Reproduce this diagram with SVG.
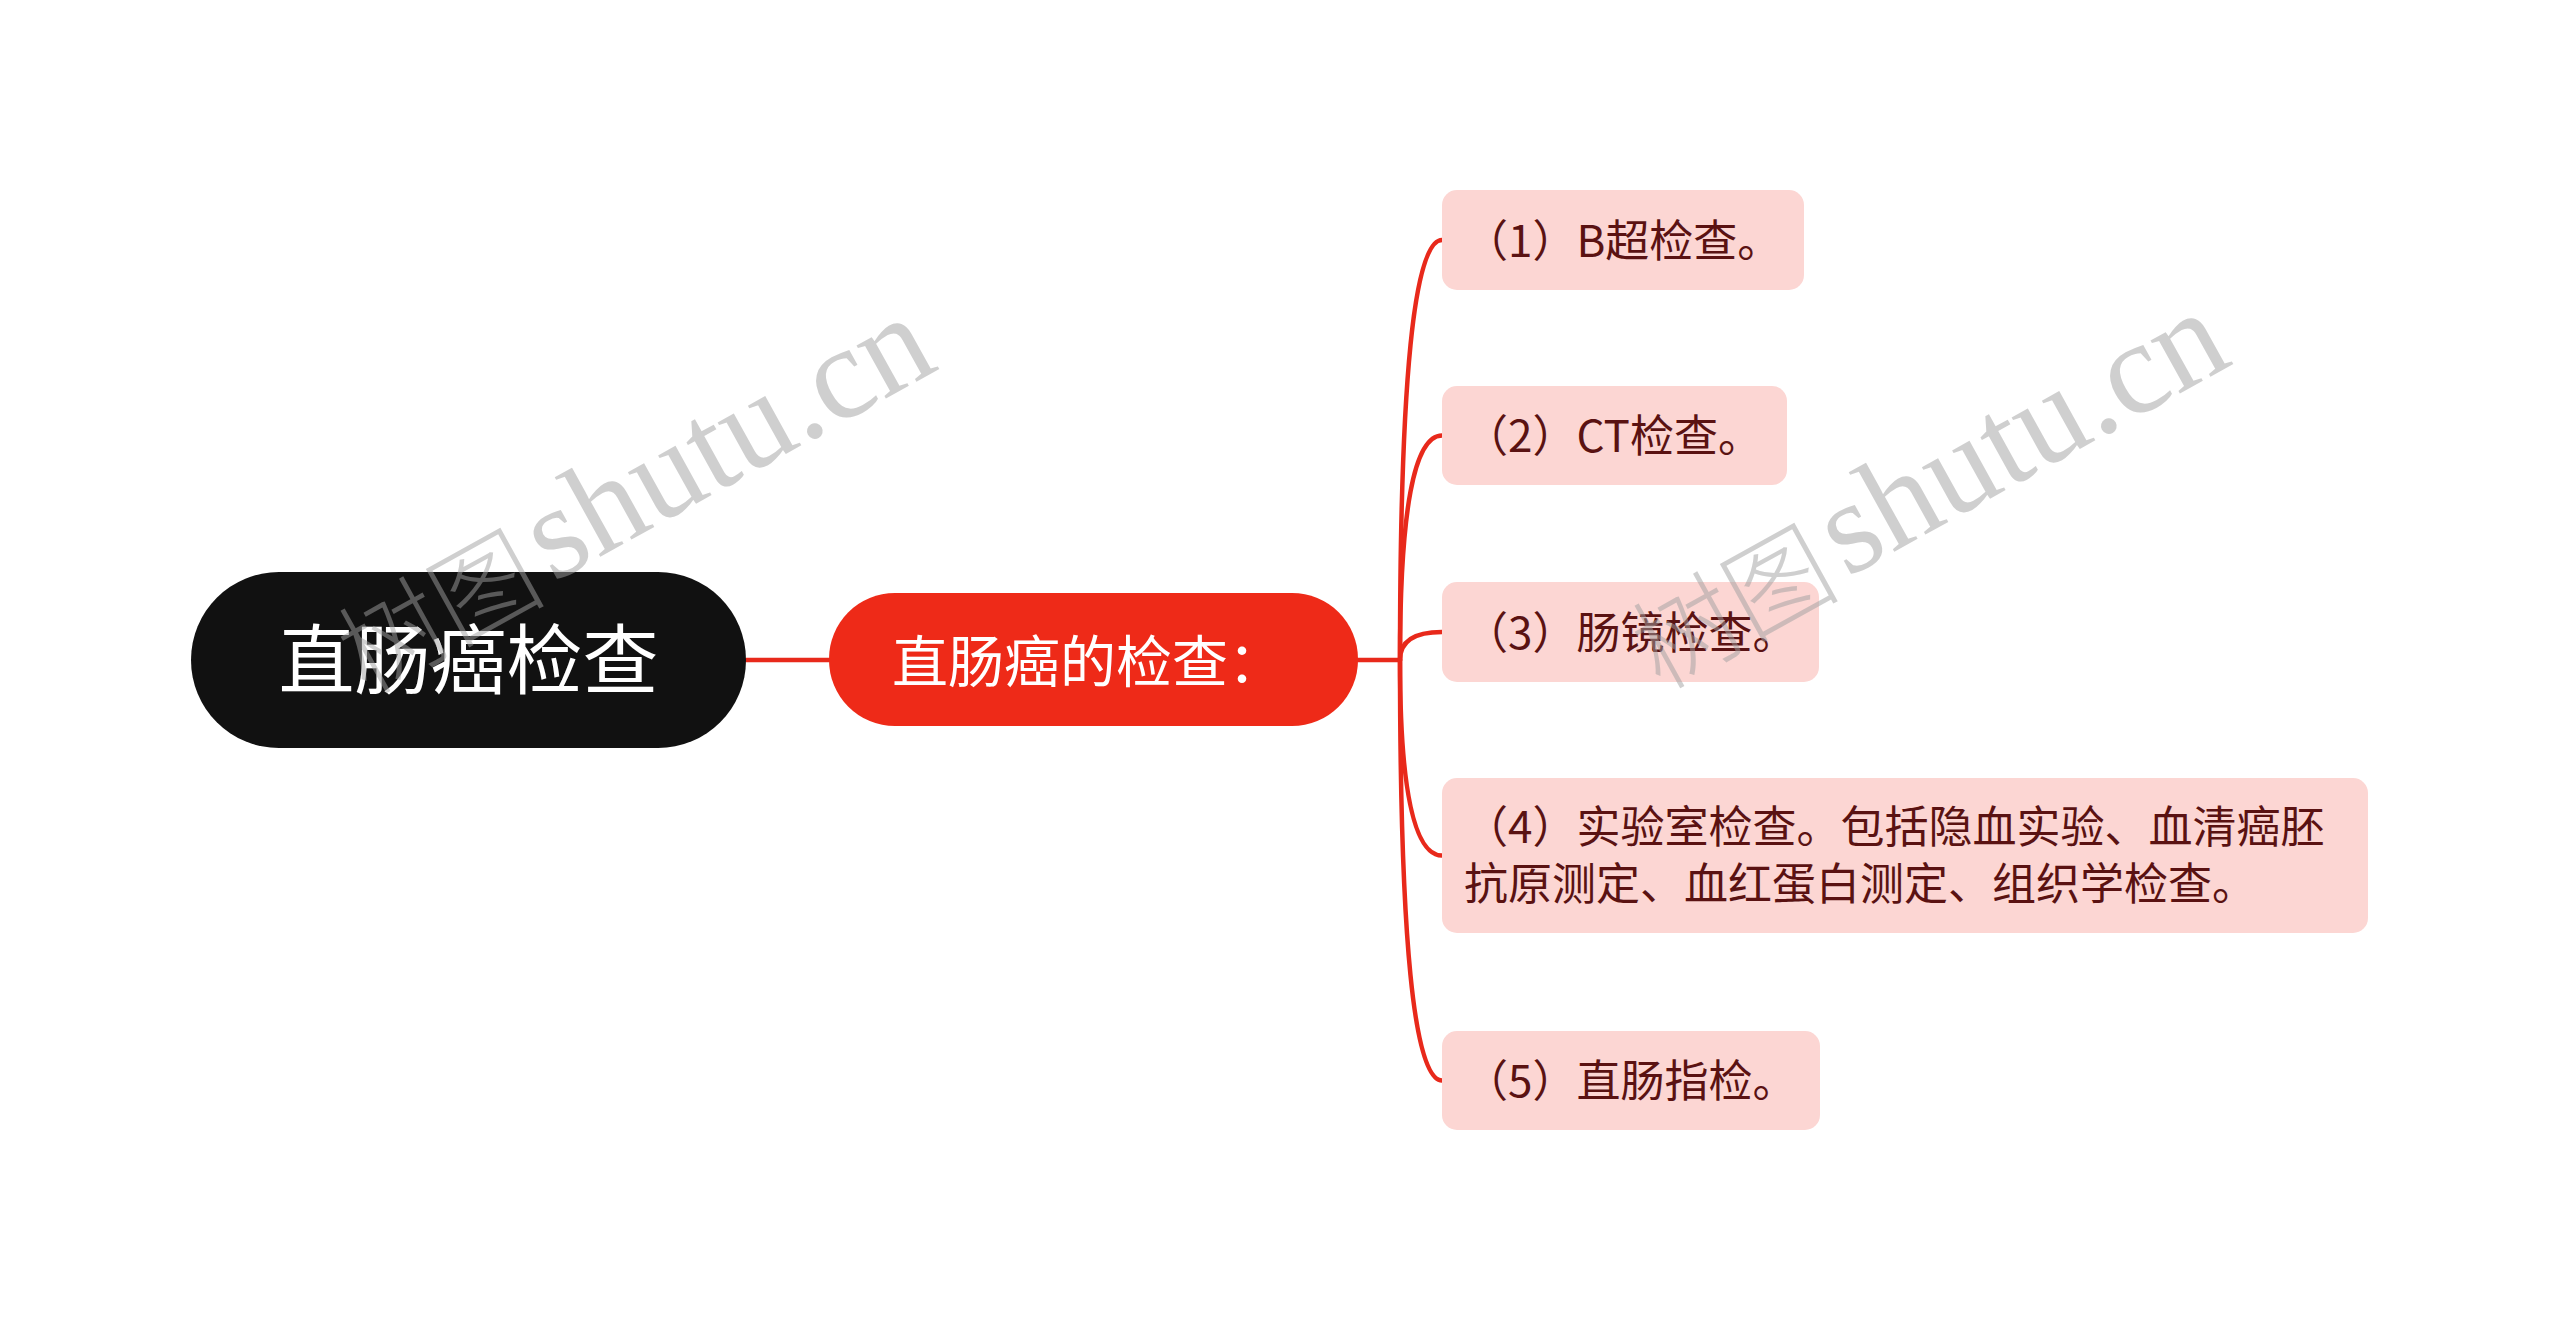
<svg xmlns="http://www.w3.org/2000/svg" width="2560" height="1321" viewBox="0 0 2560 1321">
<style>
.leaf rect{fill:#fcd6d3;}
.leaf text{fill:#5a1212;font-family:"Noto Sans CJK SC","Noto Sans",sans-serif;font-size:44px;}
.conn{fill:none;stroke:#e8291b;stroke-width:4.5;stroke-linecap:round;}
.wm{fill:#a0a0a0;opacity:0.5;}
</style>
<rect width="2560" height="1321" fill="#ffffff"/>
<g id="connectors">
<path class="conn" d="M746 660 L829 660"/>
<path class="conn" d="M1357 660 L1400 660"/>
<path class="conn" d="M1400 660 Q1400 240 1442 240"/>
<path class="conn" d="M1400 660 Q1400 435.5 1442 435.5"/>
<path class="conn" d="M1400 660 Q1400 632 1442 632"/>
<path class="conn" d="M1400 660 Q1400 855.5 1442 855.5"/>
<path class="conn" d="M1400 660 Q1400 1080.5 1442 1080.5"/>
</g>
<g id="root">
<rect x="191" y="572" width="555" height="176" rx="88" fill="#111111"/>
<text x="468.5" y="688" text-anchor="middle" fill="#ffffff" font-family="Noto Sans CJK SC, sans-serif" font-size="76">直肠癌检查</text>
</g>
<g id="mid">
<rect x="829" y="593" width="529" height="133" rx="66" fill="#ee2a18"/>
<text x="892" y="682" fill="#ffffff" font-family="Noto Sans CJK SC, sans-serif" font-size="56">直肠癌的检查：</text>
</g>
<g id="leaf1" class="leaf">
<rect x="1442" y="190" width="362" height="100" rx="15"/>
<text x="1464" y="257">（1）B超检查。</text>
</g>
<g id="leaf2" class="leaf">
<rect x="1442" y="386" width="345" height="99" rx="15"/>
<text x="1464" y="452">（2）CT检查。</text>
</g>
<g id="leaf3" class="leaf">
<rect x="1442" y="582" width="377" height="100" rx="15"/>
<text x="1464" y="649">（3）肠镜检查。</text>
</g>
<g id="leaf4" class="leaf">
<rect x="1442" y="778" width="926" height="155" rx="15"/>
<text x="1464" y="843">（4）实验室检查。包括隐血实验、血清癌胚</text>
<text x="1464" y="900">抗原测定、血红蛋白测定、组织学检查。</text>
</g>
<g id="leaf5" class="leaf">
<rect x="1442" y="1031" width="378" height="99" rx="15"/>
<text x="1464" y="1097">（5）直肠指检。</text>
</g>
<g id="watermark">
<g transform="translate(553,583) rotate(-29)">
<text class="wm" x="-10" y="8" text-anchor="end" font-family="Noto Sans CJK SC, sans-serif" font-size="104" font-weight="300">树图</text>
<text class="wm" x="0" y="0" font-family="Liberation Serif, serif" font-size="132">shutu.cn</text>
</g>
<g transform="translate(1847,578) rotate(-29)">
<text class="wm" x="-10" y="8" text-anchor="end" font-family="Noto Sans CJK SC, sans-serif" font-size="104" font-weight="300">树图</text>
<text class="wm" x="0" y="0" font-family="Liberation Serif, serif" font-size="132">shutu.cn</text>
</g>
</g>
</svg>
